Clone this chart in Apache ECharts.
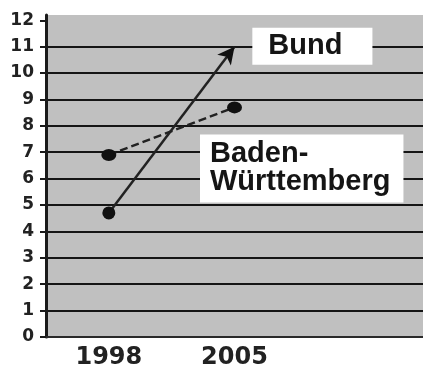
<!DOCTYPE html>
<html>
<head>
<meta charset="utf-8">
<script src="https://cdn.jsdelivr.net/npm/echarts@6/dist/echarts.min.js"></script>
<style>
  html, body { margin: 0; padding: 0; background: #fff; }
  #chart { width: 423px; height: 372px; }
</style>
</head>
<body>
<div id="chart"></div>
<script>
// Jahre (dritte Kategorie leer, nur Platz rechts)
const years = ['1998', '2005', ''];
const bund = [4.7, 11];
const bw = [6.9, 8.7];
const yTicks = [0, 1, 2, 3, 4, 5, 6, 7, 8, 9, 10, 11, 12];

const myChart = echarts.init(document.getElementById('chart'));

const boxText = {
  backgroundColor: '#fff',
  color: '#151515',
  fontFamily: 'Liberation Sans',
  fontWeight: 'bold',
  fontSize: 29
};

const option = {
  animation: false,
  grid: {
    left: 46, right: 0, top: 15, bottom: 35,
    show: true,
    backgroundColor: '#c0c0c0',
    borderWidth: 0
  },
  xAxis: {
    type: 'category',
    data: years,
    boundaryGap: true,
    axisLine: { lineStyle: { color: '#2a2a2a', width: 2 } },
    axisTick: { show: false },
    splitLine: { show: false },
    axisLabel: {
      margin: 9,
      color: '#222',
      fontFamily: 'DejaVu Sans',
      fontWeight: 'bold',
      fontSize: 24
    }
  },
  yAxis: {
    type: 'value',
    min: 0,
    max: 12.2,
    interval: 1,
    axisLine: { show: true, lineStyle: { color: '#1a1a1a', width: 3 } },
    axisTick: { show: true, length: 6, customValues: yTicks, lineStyle: { color: '#1a1a1a', width: 2 } },
    splitLine: { show: true, showMaxLine: false, lineStyle: { color: '#151515', width: 2 } },
    axisLabel: {
      customValues: yTicks,
      margin: 12,
      color: '#222',
      fontFamily: 'DejaVu Sans',
      fontWeight: 'bold',
      fontSize: 17
    }
  },
  series: [
    {
      name: 'Bund',
      type: 'line',
      data: [
        { value: bund[0], symbol: 'circle', symbolSize: 13 },
        {
          value: bund[1], symbol: 'arrow', symbolSize: [13, 17], symbolRotate: -38,
          label: Object.assign({
            show: true, position: 'right', distance: 11, offset: [0, -7],
            formatter: 'Bund', padding: [4, 30, 4, 16]
          }, boxText)
        }
      ],
      lineStyle: { color: '#222', width: 2.5 },
      itemStyle: { color: '#111' },
      z: 3
    },
    {
      name: 'Baden-Württemberg',
      type: 'line',
      data: [
        { value: bw[0], symbol: 'circle', symbolSize: [15, 12] },
        {
          value: bw[1], symbol: 'circle', symbolSize: [15, 12],
          label: Object.assign({
            show: true, position: [-27, 33],
            formatter: 'Baden-\nWürttemberg', lineHeight: 28,
            padding: [6, 13, 6, 10]
          }, boxText)
        }
      ],
      lineStyle: { color: '#222', width: 2.5, type: [8, 4] },
      itemStyle: { color: '#111' },
      z: 2
    }
  ]
};

option && myChart.setOption(option);
</script>
</body>
</html>
